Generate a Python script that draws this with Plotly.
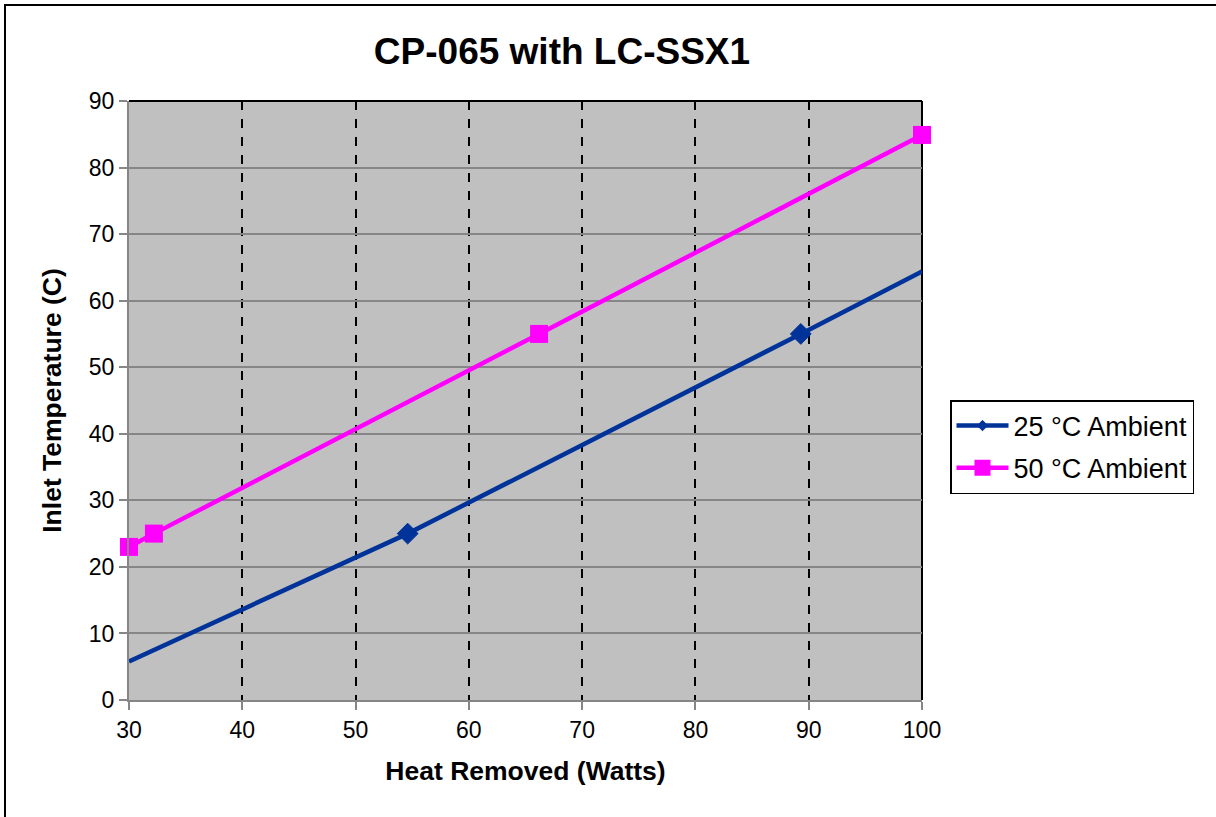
import plotly.graph_objects as go

# Data
x25 = [30, 54.6, 89.3, 100]
y25 = [5.8, 25, 55, 64.4]
m25 = [0, 16, 16, 0]

x50 = [30, 32.2, 66.2, 100]
y50 = [23, 25, 55, 84.9]

x_ticks = [30, 40, 50, 60, 70, 80, 90, 100]
y_ticks = [0, 10, 20, 30, 40, 50, 60, 70, 80, 90]

FONT = "Liberation Sans, Arial, sans-serif"

fig = go.Figure()
fig.add_trace(go.Scatter(
    x=x25, y=y25, name="25 °C Ambient", mode="lines+markers",
    line=dict(color="#003399", width=4.5),
    marker=dict(symbol="diamond", size=m25, color="#003399", opacity=1,
                line=dict(width=1, color="#003399")),
    cliponaxis=False, legendgroup="a",
))
fig.add_trace(go.Scatter(
    x=x50, y=y50, name="50 °C Ambient", mode="lines+markers",
    line=dict(color="#FF00FF", width=4.5),
    marker=dict(symbol="square", size=18, color="#FF00FF", opacity=1,
                line=dict(width=0)),
    cliponaxis=False, legendgroup="b",
))

L, R, T, B = 129, 922, 101, 700
W, H = 1216, 817
pw, ph = R - L, B - T

def px(xp):
    return (xp - L) / pw

def py(yp):
    return (B - yp) / ph

fig.update_layout(
    width=W, height=H,
    margin=dict(l=L, r=W - R, t=T, b=H - B, autoexpand=False),
    paper_bgcolor="white",
    plot_bgcolor="#C0C0C0",
    font=dict(family=FONT, size=23, color="black"),
    title=dict(text="<b>CP-065 with LC-SSX1</b>", x=px(562), xref="paper",
               xanchor="center", y=1 - 51 / H, yref="container", yanchor="middle",
               font=dict(size=37, family=FONT, color="black")),
    legend=dict(x=px(950), y=py(400), xanchor="left", yanchor="top",
                bordercolor="black", borderwidth=1.5, bgcolor="white",
                font=dict(size=27, family=FONT), itemwidth=52,
                tracegroupgap=4),
    showlegend=True,
)

fig.update_xaxes(
    range=[30, 100], tickvals=x_ticks, ticktext=[str(v) for v in x_ticks],
    showgrid=True, gridcolor="black", griddash="dash", gridwidth=1.5,
    showline=True, linecolor="#868686", linewidth=2,
    ticks="outside", ticklen=8, tickcolor="#868686", tickwidth=2,
    zeroline=False,
    tickfont=dict(size=23, family=FONT),
    title=dict(text="<b>Heat Removed (Watts)</b>", standoff=20,
               font=dict(size=26.5, family=FONT)),
)
fig.update_yaxes(
    range=[0, 90], tickvals=y_ticks, ticktext=[str(v) for v in y_ticks],
    showgrid=True, gridcolor="#868686", gridwidth=2,
    showline=True, linecolor="#868686", linewidth=2,
    ticks="outside", ticklen=8, tickcolor="#868686", tickwidth=2,
    zeroline=False,
    tickfont=dict(size=23, family=FONT),
    title=dict(text="<b>Inlet Temperature (C)</b>", standoff=20,
               font=dict(size=26.5, family=FONT)),
)

# plot area top and right borders (black)
fig.add_shape(type="line", xref="paper", yref="paper", x0=0, x1=1, y0=1, y1=1,
              line=dict(color="black", width=2), layer="above")
fig.add_shape(type="line", xref="paper", yref="paper", x0=1, x1=1, y0=0, y1=1,
              line=dict(color="black", width=2), layer="below")
# outer chart border (left and top edges visible)
fig.add_shape(type="rect", xref="paper", yref="paper",
              x0=px(5), x1=px(1230), y0=py(830), y1=py(5),
              line=dict(color="black", width=2), fillcolor="rgba(0,0,0,0)",
              layer="below")

fig.write_html("out.html", config={"displayModeBar": False},
               post_script="document.body.style.margin='0';")
